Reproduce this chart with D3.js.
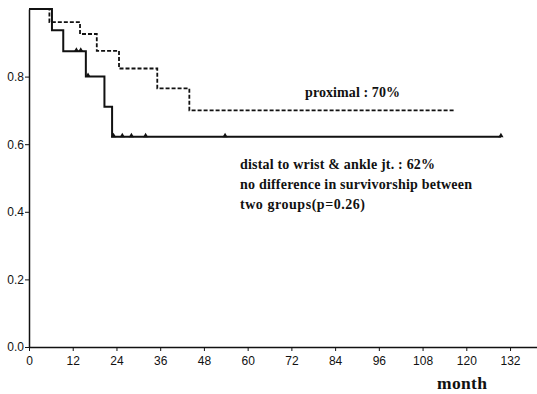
<!DOCTYPE html>
<html>
<head>
<meta charset="utf-8">
<script src="https://cdn.jsdelivr.net/npm/d3@7"></script>
<style>
  body { margin: 0; background: #fff; }
  .tick text { font-family: Arial, "Liberation Sans", sans-serif; font-size: 12px; fill: #111; }
  .note { font-family: "Times New Roman", "Liberation Serif", serif; font-weight: bold; fill: #111; }
</style>
</head>
<body>
<div id="chart"></div>
<script>
// step points: [month, survival]
const distalSteps = [[0, 1.0], [6.3, 0.9375], [9.4, 0.875], [15.6, 0.80], [20.7, 0.711], [22.8, 0.622], [129.5, 0.622]];
const distalCensored = [[13, 0.875], [14.2, 0.875], [16.2, 0.80], [23.2, 0.622], [25.6, 0.622], [28.1, 0.622], [32, 0.622], [53.8, 0.622], [129.5, 0.622]];
const proximalSteps = [[0, 1.0], [5.6, 0.961], [14, 0.926], [18.6, 0.876], [24.7, 0.824], [35.2, 0.765], [44, 0.70], [117, 0.70]];
const xTicks = [0, 12, 24, 36, 48, 60, 72, 84, 96, 108, 120, 132];
const yTicks = [0.0, 0.2, 0.4, 0.6, 0.8];
const notes = [
  { text: 'proximal : 70%', x: 305, y: 97, len: 95, size: 14 },
  { text: 'distal to wrist & ankle jt. : 62%', x: 240, y: 169, len: 195, size: 14 },
  { text: 'no difference in survivorship between', x: 240, y: 189, len: 232, size: 14 },
  { text: 'two groups(p=0.26)', x: 240, y: 209, len: 125, size: 14 },
  { text: 'month', x: 437, y: 389, len: 50, size: 17.5 }
];

const width = 537, height = 394;
const svg = d3.select('#chart').append('svg')
  .attr('width', width)
  .attr('height', height);

const x = d3.scaleLinear().domain([0, 139.4]).range([29, 537]);
const y = d3.scaleLinear().domain([0, 1]).range([347, 9]);

// axes
svg.append('g')
  .attr('transform', `translate(0,${y(0)})`)
  .call(d3.axisBottom(x).tickValues(xTicks).tickSize(4).tickPadding(5).tickSizeOuter(0));
svg.append('g')
  .attr('transform', `translate(${x(0)},0)`)
  .call(d3.axisLeft(y).tickValues(yTicks).tickFormat(d3.format('.1f')).tickSize(4).tickPadding(1).tickSizeOuter(0));
svg.selectAll('.domain').attr('stroke', '#111').attr('stroke-width', 1.5);
svg.selectAll('.tick line').attr('stroke', '#111');

const step = d3.line().x(d => x(d[0])).y(d => y(d[1])).curve(d3.curveStepAfter);

svg.append('path')
  .datum(proximalSteps)
  .attr('d', step)
  .attr('fill', 'none')
  .attr('stroke', '#111')
  .attr('stroke-width', 1.8)
  .attr('stroke-dasharray', '4,2');

svg.append('path')
  .datum(distalSteps)
  .attr('d', step)
  .attr('fill', 'none')
  .attr('stroke', '#111')
  .attr('stroke-width', 2);

// censor marks
svg.selectAll('.cens')
  .data(distalCensored)
  .enter().append('path')
  .attr('class', 'cens')
  .attr('d', d3.symbol().type(d3.symbolTriangle).size(12))
  .attr('transform', d => `translate(${x(d[0])},${y(d[1]) - 1})`)
  .attr('fill', '#111');

// notes
svg.selectAll('.note')
  .data(notes)
  .enter().append('text')
  .attr('class', 'note')
  .attr('x', d => d.x)
  .attr('y', d => d.y)
  .attr('font-size', d => d.size)
  .attr('textLength', d => d.len)
  .attr('lengthAdjust', 'spacing')
  .text(d => d.text);
</script>
</body>
</html>
